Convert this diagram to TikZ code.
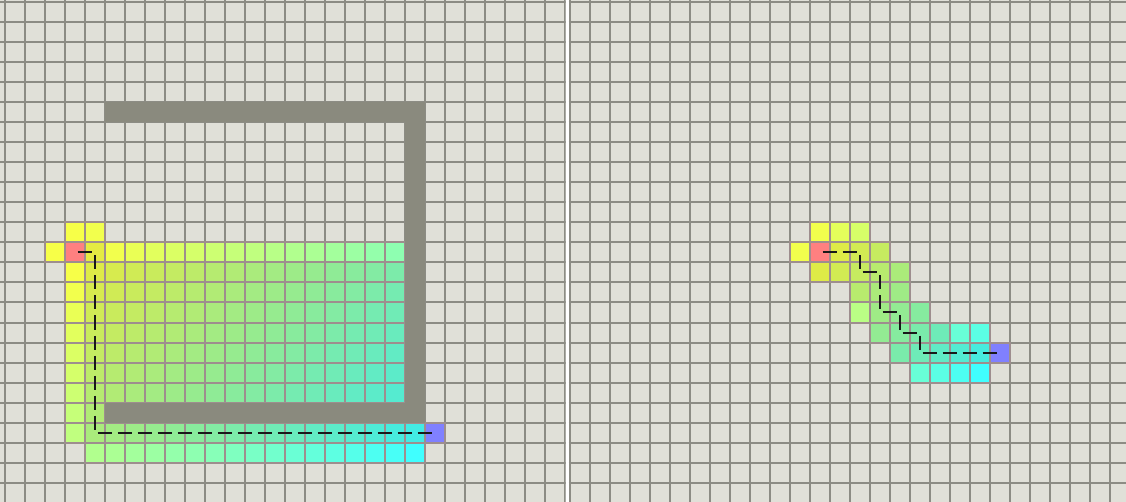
\documentclass[tikz,border=0pt]{standalone}
\usepackage{tikz}
\definecolor{bgcell}{RGB}{224,224,216}
\definecolor{gridln}{RGB}{140,140,132}
\definecolor{cellln}{RGB}{158,142,142}
\definecolor{wallc}{RGB}{138,138,126}
\definecolor{cyellow}{RGB}{255,255,64}
\definecolor{ccyan}{RGB}{64,255,255}
\definecolor{cstart}{RGB}{255,128,128}
\definecolor{cgoal}{RGB}{128,128,255}
\tikzset{
  gridline/.style={draw=gridln, line width=2pt},
  wall/.style={fill=wallc},
  visited/.style={draw=cellln, line width=2pt},
  trail/.style={draw=black!90, line width=2pt, dash pattern=on 14pt off 6pt, dash phase=17pt},
}
% one visited cell: x offset, col, row, cost, max cost, frontier flag
\newcommand{\visit}[6]{%
  \pgfmathtruncatemacro\mixpct{round(100*#4/#5)}%
  \colorlet{cellc}{ccyan!\mixpct!cyellow}%
  \ifnum#6=0 \colorlet{cellc}{cellc!92!black}\fi
  \filldraw[visited, fill=cellc] (#1+20*#2, 2.5+20*#3) rectangle ++(20,20);
}

\begin{document}
\begin{tikzpicture}[x=1pt, y=-1pt]
\useasboundingbox (0,0) rectangle (1126,502);
\fill[white] (0,0) rectangle (1126,502);

% left panel
\begin{scope}
\clip (0,0) rectangle (565.5,502);
\fill[bgcell] (0,0) rectangle (565.5,502);
\foreach \k in {0,...,28} \draw[gridline] (4.5+20*\k,0) -- (4.5+20*\k,502);
\foreach \k in {0,...,25} \draw[gridline] (0,2.5+20*\k) -- (565.5,2.5+20*\k);

\visit{4.5}{3}{11}{1}{27}{1}
\visit{4.5}{4}{11}{2}{27}{1}
\visit{4.5}{2}{12}{1}{27}{1}
\visit{4.5}{4}{12}{1}{27}{0}
\foreach \c in {5,...,19} {\pgfmathtruncatemacro\d{\c-3}\visit{4.5}{\c}{12}{\d}{27}{1}}
\foreach \r in {13,...,21} {\pgfmathtruncatemacro\d{\r-12}\visit{4.5}{3}{\r}{\d}{27}{1}}
\foreach \r in {13,...,19} {
  \foreach \c in {4,...,19} {\pgfmathtruncatemacro\d{\c+\r-15}\visit{4.5}{\c}{\r}{\d}{27}{0}}
}
\visit{4.5}{4}{20}{9}{27}{0}
\foreach \c in {4,...,20} {\pgfmathtruncatemacro\d{\c+6}\visit{4.5}{\c}{21}{\d}{27}{0}}
\foreach \c in {4,...,20} {\pgfmathtruncatemacro\d{\c+7}\visit{4.5}{\c}{22}{\d}{27}{1}}

\filldraw[visited, fill=cstart] (64.5,242.5) rectangle ++(20,20);
\filldraw[visited, fill=cgoal] (424.5,422.5) rectangle ++(20,20);

\fill[wall] (104.5,102.5) rectangle (424.5,122.5);
\fill[wall] (404.5,102.5) rectangle (424.5,422.5);
\fill[wall] (104.5,402.5) rectangle (424.5,422.5);

\coordinate (ls) at (74.5,252.5);
\coordinate (la) at (94.5,252.5);
\coordinate (lb) at (94.5,432.5);
\coordinate (lg) at (434.5,432.5);
\draw[trail] (ls) -- (la) -- (lb) -- (lg);
\end{scope}

% right panel
\begin{scope}
\clip (568.5,0) rectangle (1126,502);
\fill[bgcell] (568.5,0) rectangle (1126,502);
\foreach \k in {0,...,27} \draw[gridline] (569.5+20*\k,0) -- (569.5+20*\k,502);
\foreach \k in {0,...,25} \draw[gridline] (568.5,2.5+20*\k) -- (1126,2.5+20*\k);

\foreach \c/\r/\d/\f in {12/11/1/1, 13/11/2/1, 14/11/3/1,
    11/12/1/1, 13/12/1/0, 14/12/2/0, 15/12/3/0,
    12/13/1/0, 13/13/2/0, 14/13/3/0, 15/13/4/0, 16/13/5/0,
    14/14/4/0, 15/14/5/0, 16/14/6/0,
    14/15/5/1, 15/15/6/0, 16/15/7/0, 17/15/8/0,
    15/16/7/0, 16/16/8/0, 17/16/9/0, 18/16/10/0, 19/16/11/1, 20/16/12/1,
    16/17/9/0, 17/17/10/0, 18/17/11/0, 19/17/12/0, 20/17/13/0,
    17/18/11/1, 18/18/12/1, 19/18/13/1, 20/18/14/1}
  {\visit{569.5}{\c}{\r}{\d}{14}{\f}}

\filldraw[visited, fill=cstart] (809.5,242.5) rectangle ++(20,20);
\filldraw[visited, fill=cgoal] (989.5,342.5) rectangle ++(20,20);

\coordinate (rs) at (819.5,252.5);
\coordinate (ra) at (859.5,252.5);
\coordinate (rb) at (859.5,272.5);
\coordinate (rc) at (879.5,272.5);
\coordinate (rd) at (879.5,312.5);
\coordinate (re) at (899.5,312.5);
\coordinate (rf) at (899.5,332.5);
\coordinate (rh) at (919.5,332.5);
\coordinate (ri) at (919.5,352.5);
\coordinate (rg) at (999.5,352.5);
\draw[trail] (rs) -- (ra) -- (rb) -- (rc) -- (rd) -- (re) -- (rf) -- (rh) -- (ri) -- (rg);
\end{scope}
\end{tikzpicture}
\end{document}
